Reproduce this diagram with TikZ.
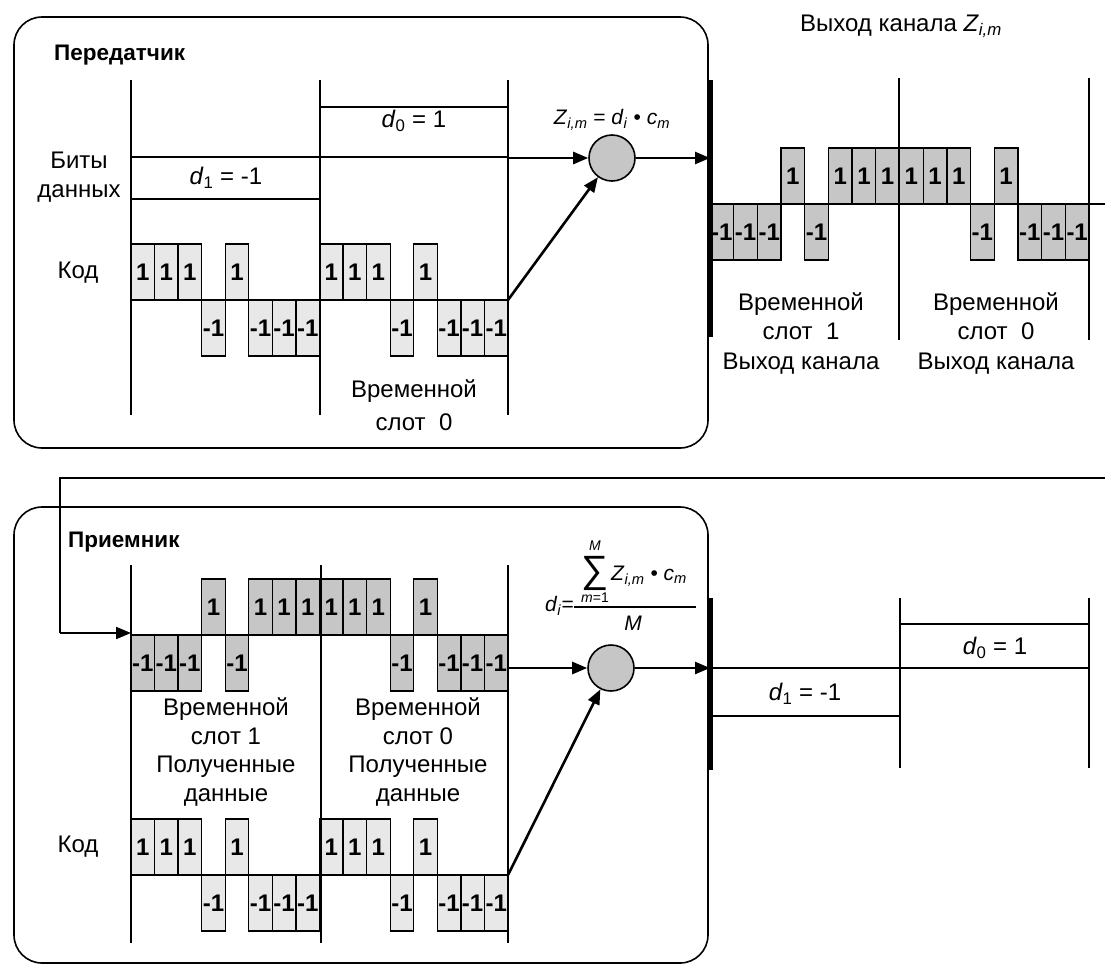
\documentclass[tikz,border=0pt]{standalone}
\usepackage{fontspec}
\setmainfont{Liberation Sans}
\usetikzlibrary{arrows.meta,calc}
\newcommand{\drawchips}[6]{%
  \foreach \v [count=\k from 0] in {#6} {%
    \draw[#5] ({#2+\k*#4},#3) rectangle ({#2+(\k+1)*#4},{#3-(\v)*56});
    \node[chiptxt] (#1\k) at ({#2+(\k+0.5)*#4},{#3-(\v)*28}) {\v};
  }%
}
\tikzset{
  lbl/.style={font=\fontsize{24}{29}\selectfont, align=center, inner sep=0pt},
  ttl/.style={font=\bfseries\fontsize{22.5}{26}\selectfont, anchor=west, inner sep=0pt},
  fml/.style={font=\fontsize{21}{24}\selectfont, inner sep=0pt},
  sml/.style={font=\fontsize{14}{16}\selectfont, inner sep=0pt},
  chipA/.style={draw, line width=1.3pt, fill=gray!18},
  chipB/.style={draw, line width=1.3pt, fill=gray!45},
  chiptxt/.style={font=\bfseries\fontsize{24}{26}\selectfont, inner sep=0pt},
  slotline/.style={line width=2pt},
  thickline/.style={line width=5pt},
  dline/.style={line width=1.6pt},
  arr/.style={line width=2.6pt, -{Triangle[length=15pt,width=12pt]}},
  panel/.style={draw, line width=1.6pt, rounded corners=28pt},
  mult/.style={circle, draw, line width=1.6pt, fill=gray!45, minimum size=46pt, inner sep=0pt},
}
\begin{document}
\begin{tikzpicture}[x=1pt,y=-1pt]
\useasboundingbox (0,0) rectangle (1105,972);
\fill[white] (0,0) rectangle (1105,972);

% ===== Transmitter panel =====
\draw[panel] (14,17) rectangle (708,448);
\node[ttl] (tx) at (54,55) {Передатчик};

% data bits
\draw[dline] (320,107) -- (508,107);
\draw[dline] (131,157) -- (508,157);
\draw[dline] (131,199) -- (320,199);
\node[lbl] (d0t) at (414,121) {\textit{d}\textsubscript{0} = 1};
\node[lbl] (d1t) at (226,178) {\textit{d}\textsubscript{1} = -1};
\node[lbl, font=\fontsize{24}{29}\selectfont] (bits) at (79,177) {Биты\\данных};
\node[lbl] (kod1) at (78,273) {Код};

% code chips
\drawchips{tc}{131}{300}{23.5625}{chipA}{1,1,1,-1,1,-1,-1,-1,1,1,1,-1,1,-1,-1,-1}
\draw[dline] (131,300) -- (508,300);
\foreach \x in {131,320,508} \draw[slotline] (\x,80) -- (\x,415);
\node[lbl, font=\fontsize{24}{33}\selectfont] (ts0) at (414,405) {Временной\\слот\ \ 0};

% multiplier
\node[mult] (tmul) at (612,158) {};
\node[fml] (tform) at (612,120) {\textit{Z}\textsubscript{\textit{i,m}} = \textit{d}\textsubscript{\textit{i}} • \textit{c}\textsubscript{\textit{m}}};
\coordinate (tdEnd) at (508,158);
\coordinate (tcEnd) at (508,300);
\coordinate (chIn) at (710,158);
\draw[arr] (tdEnd) -- (tmul);
\draw[arr] (tcEnd) -- (tmul);
\draw[arr] (tmul) -- (chIn);

% ===== Channel output =====
\node[lbl] (chtitle) at (901,26) {Выход канала \textit{Z}\textsubscript{\textit{i,m}}};
\drawchips{ch}{710}{204}{23.6875}{chipB}{-1,-1,-1,1,-1,1,1,1,1,1,1,-1,1,-1,-1,-1}
\coordinate (chOut) at (1105,204);
\draw[dline] (710,204) -- (chOut);
\draw[thickline] (710,80) -- (710,337);
\draw[slotline] (899,78) -- (899,340);
\draw[slotline] (1089,78) -- (1089,340);
\node[lbl, font=\fontsize{24}{29.5}\selectfont] (cs1) at (801,333) {Временной\\слот\ \ 1\\Выход канала};
\node[lbl, font=\fontsize{24}{29.5}\selectfont] (cs0) at (996,333) {Временной\\слот\ \ 0\\Выход канала};

% ===== wrap-around connector =====
\coordinate (wrapR) at (1105,478);
\coordinate (wrapL) at (60,478);
\coordinate (wrapD) at (60,633);
\coordinate (rxIn) at (131,633);
\draw[dline] (wrapR) -- (wrapL) -- (wrapD);
\draw[arr, line width=2pt] (wrapD) -- (rxIn);

% ===== Receiver panel =====
\draw[panel] (14,507) rectangle (708,963);
\node[ttl] (rx) at (68,542) {Приемник};

\drawchips{rc}{131}{635}{23.5625}{chipB}{-1,-1,-1,1,-1,1,1,1,1,1,1,-1,1,-1,-1,-1}
\draw[dline] (131,635) -- (508,635);
\drawchips{kc}{131}{875}{23.5625}{chipA}{1,1,1,-1,1,-1,-1,-1,1,1,1,-1,1,-1,-1,-1}
\draw[dline] (131,875) -- (508,875);
\foreach \x in {131,321,508} \draw[slotline] (\x,565) -- (\x,943);
\node[lbl, font=\fontsize{24}{28.5}\selectfont] (rs1) at (226,752) {Временной\\слот 1\\Полученные\\данные};
\node[lbl, font=\fontsize{24}{28.5}\selectfont] (rs0) at (418,752) {Временной\\слот 0\\Полученные\\данные};
\node[lbl] (kod2) at (78,847) {Код};

% correlator
\node[mult] (rmul) at (611,668) {};
\coordinate (rdEnd) at (508,668);
\coordinate (rcEnd) at (508,875);
\coordinate (outIn) at (710,668);
\draw[arr] (rdEnd) -- (rmul);
\draw[arr] (rcEnd) -- (rmul);
\draw[arr] (rmul) -- (outIn);

% formula
\node[fml, font=\fontsize{38}{38}\selectfont] (sig) at (595,573) {∑};
\node[sml] (sigtop) at (595,546) {\textit{M}};
\node[sml] (sigbot) at (595,598) {\textit{m}=1};
\node[fml, anchor=west] (num) at (611,576) {\textit{Z}\textsubscript{\textit{i,m}} • \textit{c}\textsubscript{\textit{m}}};
\coordinate (barL) at (574,607);
\coordinate (barR) at (696,607);
\draw[line width=1.4pt] (barL) -- (barR);
\node[fml] (den) at (633,623) {\textit{M}};
\node[fml, anchor=east] (dieq) at (574,606) {\textit{d}\textsubscript{\textit{i}}=};

% output data
\draw[dline] (710,668) -- (1089,668);
\draw[dline] (900,624) -- (1089,624);
\draw[dline] (710,716) -- (900,716);
\draw[thickline] (710,598) -- (710,770);
\draw[slotline] (900,598) -- (900,768);
\draw[slotline] (1089,598) -- (1089,768);
\node[lbl] (od1) at (805,694) {\textit{d}\textsubscript{1} = -1};
\node[lbl] (od0) at (995,648) {\textit{d}\textsubscript{0} = 1};
\end{tikzpicture}
\end{document}
